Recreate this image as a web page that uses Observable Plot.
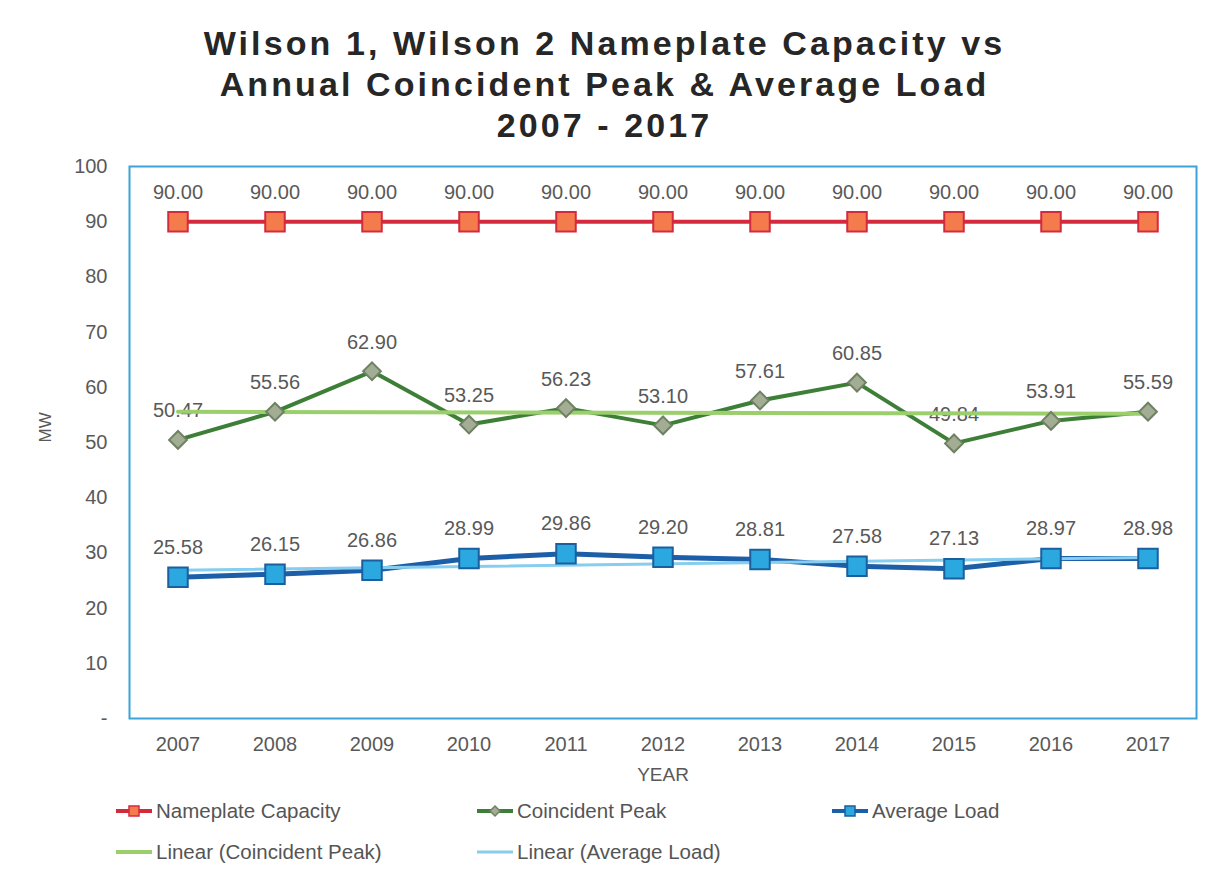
<!DOCTYPE html>
<html><head><meta charset="utf-8">
<script src="https://cdn.jsdelivr.net/npm/d3@7"></script>
<script src="https://cdn.jsdelivr.net/npm/@observablehq/plot@0.6"></script>
<style>
body{margin:0;background:#fff;font-family:"Liberation Sans",Arial,sans-serif;}
#wrap{position:relative;width:1209px;height:888px;overflow:hidden;}
#title{position:absolute;left:0;top:23px;width:1209px;text-align:center;font-weight:bold;font-size:34px;line-height:41px;letter-spacing:3.1px;color:#262626;}
#chart{position:absolute;left:0;top:146px;}
.lg{position:absolute;display:flex;align-items:center;font-size:20.5px;color:#555;height:30px;white-space:nowrap;}
.lg svg{margin-right:3px;}
</style></head><body>
<div id="wrap">
<div id="title">Wilson 1, Wilson 2 Nameplate Capacity vs<br>Annual Coincident Peak &amp; Average Load<br>2007 - 2017</div>
<div id="chart"></div>
<div id="legend"></div>
</div>
<script>
const years = [2007, 2008, 2009, 2010, 2011, 2012, 2013, 2014, 2015, 2016, 2017];
const nameplate = [90.00, 90.00, 90.00, 90.00, 90.00, 90.00, 90.00, 90.00, 90.00, 90.00, 90.00];
const coincidentPeak = [50.47, 55.56, 62.90, 53.25, 56.23, 53.10, 57.61, 60.85, 49.84, 53.91, 55.59];
const averageLoad = [25.58, 26.15, 26.86, 28.99, 29.86, 29.20, 28.81, 27.58, 27.13, 28.97, 28.98];
const yTicks = [0, 10, 20, 30, 40, 50, 60, 70, 80, 90, 100];
const seriesNames = ["Nameplate Capacity", "Coincident Peak", "Average Load", "Linear (Coincident Peak)", "Linear (Average Load)"];

const rows = (vals) => years.map((year, i) => ({year, value: vals[i]}));
const np = rows(nameplate), cp = rows(coincidentPeak), al = rows(averageLoad);
const fmt = d3.format(".2f");
const labelColor = "#595959";

const C = {
  npLine: "#d42a3e", npFill: "#f47c4c",
  cpLine: "#3e7f38", cpFill: "#a2ad93", cpStroke: "#6f8163",
  alLine: "#1c5ea8", alFill: "#2ba8e0", alStroke: "#1b5f9e",
  cpTrend: "#9bcf6e", alTrend: "#86cdf0"
};

const chart = Plot.plot({
  width: 1209, height: 644,
  marginTop: 20, marginBottom: 72, marginLeft: 129, marginRight: 13,
  style: {fontFamily: "Liberation Sans, Arial, sans-serif", fontSize: "20px", color: labelColor, background: "transparent", overflow: "visible"},
  x: {type: "linear", domain: [2006.5, 2017.5]},
  y: {domain: [0, 100]},
  marks: [
    Plot.frame({stroke: "#3ba3d9", strokeWidth: 2}),
    Plot.axisY({ticks: yTicks, tickSize: 0, tickPadding: 22, tickFormat: d => d === 0 ? "-" : String(d), label: null, fontSize: 20, fill: labelColor}),
    Plot.axisX({ticks: years, tickSize: 0, tickPadding: 18, tickFormat: d => String(d), label: null, fontSize: 20, fill: labelColor}),
    Plot.text(["MW"], {text: d => d, frameAnchor: "left", dx: -84, rotate: -90, fontSize: 17, fill: labelColor}),
    Plot.text(["YEAR"], {text: d => d, frameAnchor: "bottom", dy: 62, fontSize: 19, fill: labelColor}),
    Plot.lineY(np, {x: "year", y: "value", stroke: C.npLine, strokeWidth: 4}),
    Plot.lineY(cp, {x: "year", y: "value", stroke: C.cpLine, strokeWidth: 4}),
    Plot.lineY(al, {x: "year", y: "value", stroke: C.alLine, strokeWidth: 5}),
    Plot.text(np, {x: "year", y: "value", text: d => fmt(d.value), dy: -29, fontSize: 20, fill: labelColor}),
    Plot.text(cp, {x: "year", y: "value", text: d => fmt(d.value), dy: -29, fontSize: 20, fill: labelColor}),
    Plot.text(al, {x: "year", y: "value", text: d => fmt(d.value), dy: -30, fontSize: 20, fill: labelColor}),
    Plot.linearRegressionY(cp, {x: "year", y: "value", stroke: C.cpTrend, strokeWidth: 4, ci: 0}),
    Plot.linearRegressionY(al, {x: "year", y: "value", stroke: C.alTrend, strokeWidth: 3, ci: 0}),
    Plot.dot(np, {x: "year", y: "value", symbol: "square", r: 11, fill: C.npFill, stroke: C.npLine, strokeWidth: 2}),
    Plot.dot(cp, {x: "year", y: "value", symbol: "diamond2", r: 8, fill: C.cpFill, stroke: C.cpStroke, strokeWidth: 2}),
    Plot.dot(al, {x: "year", y: "value", symbol: "square", r: 11, fill: C.alFill, stroke: C.alStroke, strokeWidth: 2})
  ]
});
document.getElementById("chart").appendChild(chart);

// legend
const legendItems = [
  {name: seriesNames[0], x: 115, y: 811, line: C.npLine, lw: 4, marker: "square", fill: C.npFill, stroke: C.npLine},
  {name: seriesNames[1], x: 476, y: 811, line: C.cpLine, lw: 4, marker: "diamond", fill: C.cpFill, stroke: C.cpStroke},
  {name: seriesNames[2], x: 831, y: 811, line: C.alLine, lw: 4, marker: "square", fill: C.alFill, stroke: C.alStroke},
  {name: seriesNames[3], x: 115, y: 852, line: C.cpTrend, lw: 4, marker: null},
  {name: seriesNames[4], x: 476, y: 852, line: C.alTrend, lw: 3, marker: null}
];
const lg = document.getElementById("legend");
for (const it of legendItems) {
  const div = document.createElement("div");
  div.className = "lg";
  div.style.left = it.x + "px";
  div.style.top = (it.y - 15) + "px";
  let mk = "";
  if (it.marker === "square") mk = `<rect x="14" y="5" width="10" height="10" fill="${it.fill}" stroke="${it.stroke}" stroke-width="1.5"/>`;
  if (it.marker === "diamond") mk = `<path d="M19 5 L24 10 L19 15 L14 10 Z" fill="${it.fill}" stroke="${it.stroke}" stroke-width="1.5"/>`;
  div.innerHTML = `<svg width="38" height="20"><line x1="1" y1="10" x2="37" y2="10" stroke="${it.line}" stroke-width="${it.lw}"/>${mk}</svg><span>${it.name}</span>`;
  lg.appendChild(div);
}
</script>
</body></html>
